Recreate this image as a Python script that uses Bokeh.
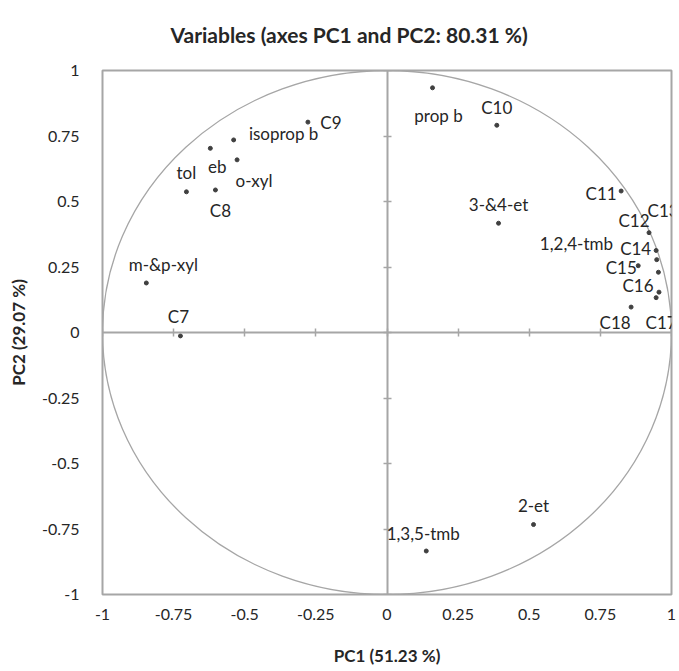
from bokeh.plotting import figure
from bokeh.models import (ColumnDataSource, LabelSet, LinearAxis, FixedTicker,
                          CustomJSTickFormatter, Title)
from bokeh.core.properties import value
from bokeh.embed import file_html
from bokeh.resources import INLINE

# ---- data ----
names = ["prop b", "C10", "3-&4-et", "C11", "C12", "C13", "C14", "1,2,4-tmb",
         "C15", "C16", "C17", "C18", "C9", "isoprop b", "eb", "o-xyl", "tol",
         "C8", "m-&p-xyl", "C7", "2-et", "1,3,5-tmb"]
pc1 = [0.160, 0.386, 0.392, 0.823, 0.921, 0.946, 0.948, 0.954,
       0.883, 0.956, 0.946, 0.858, -0.278, -0.539, -0.621, -0.527, -0.705,
       -0.603, -0.846, -0.726, 0.515, 0.138]
pc2 = [0.934, 0.791, 0.417, 0.540, 0.381, 0.313, 0.278, 0.230,
       0.255, 0.154, 0.133, 0.097, 0.803, 0.735, 0.703, 0.659, 0.537,
       0.544, 0.189, -0.013, -0.733, -0.834]
ticks = [-1, -0.75, -0.5, -0.25, 0, 0.25, 0.5, 0.75, 1]

# label placement (screen pixels, styling only)
dx = [6, 0, 0, -20, -15, 7, -21, -82, -17, -21, 5, -16, 23, 50, 7, 17, 0, 5, 17, -2, 0, -3]
dy = [-28, 18, 19, -2, 12, 40, 11, 29, -2, 7, -25, -15, 0, 6, -18, -21, 19, -21, 18, 19, 19, 18]

FONT = "Lato"
GRAY = "#a6a6a6"
TXT = "#262626"

src = ColumnDataSource(dict(x=pc1, y=pc2, name=names, dx=dx, dy=dy))

p = figure(width=679, height=671, x_range=(-1, 1), y_range=(-1, 1),
           output_backend="svg", toolbar_location=None,
           min_border_left=102, min_border_right=8,
           min_border_top=69, min_border_bottom=77,
           background_fill_color="white", border_fill_color="white")
p.grid.visible = False
p.outline_line_color = GRAY
p.outline_line_width = 2

# outer axes: labels only
for ax in (p.xaxis[0], p.yaxis[0]):
    ax.ticker = FixedTicker(ticks=ticks)
    ax.formatter = CustomJSTickFormatter(code="return tick.toString()")
    ax.axis_line_color = None
    ax.major_tick_line_color = None
    ax.minor_tick_line_color = None
    ax.major_label_text_font = FONT
    ax.major_label_text_font_size = "16px"
    ax.major_label_text_color = TXT
    ax.axis_label_text_font = FONT
    ax.axis_label_text_font_style = "bold"
    ax.axis_label_text_font_size = "17px"
    ax.axis_label_text_color = TXT

p.xaxis[0].axis_label = "PC1 (51.23 %)"
p.xaxis[0].major_label_standoff = 8
p.xaxis[0].axis_label_standoff = 22
p.yaxis[0].axis_label = "PC2 (29.07 %)"
p.yaxis[0].major_label_standoff = 17
p.yaxis[0].axis_label_standoff = 10

# central axes through the origin, with crossing ticks
for loc in ("below", "left"):
    cax = LinearAxis(fixed_location=0, ticker=FixedTicker(ticks=ticks),
                     axis_line_color=GRAY, axis_line_width=2,
                     major_tick_line_color=GRAY, major_tick_line_width=1.5,
                     major_tick_in=4, major_tick_out=4,
                     minor_tick_line_color=None,
                     major_label_text_color=None, major_label_text_font_size="1px")
    p.add_layout(cax, loc)

# correlation circle
p.ellipse(x=0, y=0, width=2, height=2, fill_color=None,
          line_color=GRAY, line_width=1.3)

# points
p.scatter("x", "y", source=src, size=4, color="#404040")

labels = LabelSet(x="x", y="y", text="name", source=src,
                  x_offset="dx", y_offset="dy",
                  text_align="center", text_baseline="middle",
                  text_font=value(FONT), text_font_size="17px", text_color=TXT)
p.add_layout(labels)

title = Title(text="Variables (axes PC1 and PC2: 80.31 %)", align="left",
              offset=68, text_font=FONT, text_font_style="bold",
              text_font_size="21px", text_color=TXT, standoff=43,
              vertical_align="top")
p.add_layout(title, "above")

open("out.html", "w").write(file_html(p, INLINE))
